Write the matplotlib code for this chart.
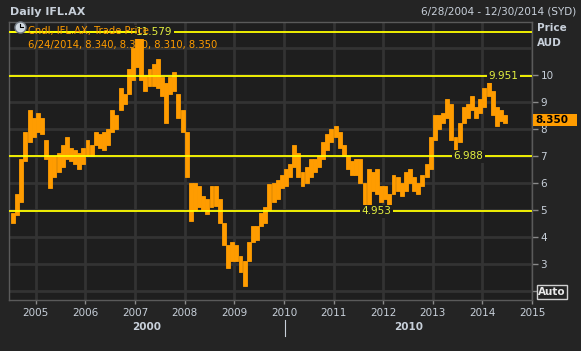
import numpy as np
import matplotlib.pyplot as plt
from matplotlib.patches import Rectangle

# monthly price ranges (Jul 2004 .. Jun 2014)
start_year, start_month = 2004, 7
lows = [4.5, 4.8, 5.3, 6.8, 7.5, 7.7,
        7.9, 7.8, 6.9, 5.8, 6.2, 6.4, 6.6, 6.9, 6.8, 6.7, 6.5, 6.7,
        7.0, 7.0, 7.4, 7.3, 7.2, 7.4, 7.9, 8.0, 8.7, 8.9, 9.3, 9.8,
        10.3, 9.8, 9.4, 9.6, 9.6, 9.5, 9.2, 8.2, 9.3, 9.4, 8.4, 7.9,
        6.2, 4.6, 5.0, 5.1, 5.0, 4.85, 5.1, 5.15, 4.5, 3.7, 2.85, 3.1,
        3.1, 2.7, 2.2, 3.1, 3.8, 3.9, 4.4, 4.5, 5.0, 5.3, 5.4, 5.8,
        5.9, 6.2, 6.6, 6.2, 5.9, 6.0, 6.2, 6.4, 6.6, 6.9, 7.2, 7.5,
        7.7, 7.3, 7.0, 6.5, 6.3, 6.3, 6.0, 4.95, 5.2, 5.7, 5.6, 5.3,
        5.4, 5.2, 5.6, 5.7, 5.5, 5.7, 6.0, 5.7, 5.6, 5.9, 6.2, 6.5,
        7.6, 8.0, 8.2, 8.4, 7.6, 6.99, 7.5, 8.2, 8.4, 8.7, 8.4, 8.6,
        8.8, 9.2, 8.5, 8.1, 8.3, 8.2]
highs = [4.9, 5.6, 6.9, 7.9, 8.7, 8.4,
         8.6, 8.4, 7.6, 7.0, 7.0, 7.1, 7.4, 7.7, 7.3, 7.2, 7.1, 7.3,
         7.6, 7.4, 7.9, 7.8, 7.9, 8.0, 8.7, 8.5, 9.5, 9.3, 10.2, 11.0,
         11.579, 11.5, 10.0, 10.2, 10.4, 10.6, 9.9, 9.7, 9.9, 10.1, 9.3, 8.7,
         7.9, 6.0, 6.0, 5.9, 5.5, 5.4, 5.9, 5.9, 5.4, 4.5, 3.7, 3.8,
         3.7, 3.3, 3.1, 3.8, 4.4, 4.4, 4.9, 5.1, 5.95, 6.0, 6.1, 6.3,
         6.5, 6.7, 7.4, 7.1, 6.4, 6.6, 6.9, 6.9, 7.0, 7.5, 7.8, 8.0,
         8.1, 7.9, 7.4, 7.0, 6.8, 6.9, 6.9, 6.0, 6.5, 6.4, 6.5, 5.9,
         5.9, 5.6, 6.3, 6.2, 6.0, 6.4, 6.5, 6.2, 6.0, 6.3, 6.7, 7.7,
         8.5, 8.5, 8.6, 9.1, 8.9, 7.7, 8.2, 8.8, 8.9, 9.2, 8.8, 9.1,
         9.5, 9.951, 9.4, 8.8, 8.7, 8.5]

levels = [11.579, 9.951, 6.988, 4.953]
level_label_x = [2007.38, 2014.42, 2013.72, 2011.86]
years = list(range(2005, 2016))
price_ticks = list(range(2, 11))
last_price = 8.350

months = np.arange(len(lows))
t = start_year + (start_month - 1 + months + 0.5) / 12.0
lows = np.array(lows)
highs = np.array(highs)

fig_bg = '#242424'
ax_bg = '#1e1e1e'
grid_c = '#333333'
txt_c = '#c8d0da'
orange = '#ff9c00'
yellow = '#ffff00'

fig = plt.figure(figsize=(5.81, 3.51), dpi=100, facecolor=fig_bg)
ax = fig.add_axes([9 / 581, 1 - 300 / 351, 523 / 581, 278 / 351], facecolor=ax_bg)

ax.set_xlim(2004.46, 2015.0)
ax.set_ylim(1.67, 11.95)

for y in range(2, 12):
    ax.axhline(y, color=grid_c, lw=2, zorder=0)
for x in years:
    ax.axvline(x, color=grid_c, lw=2, zorder=0)

ax.bar(t, highs - lows, bottom=lows, width=1 / 12 * 0.95, color=orange,
       edgecolor=orange, lw=0.6, zorder=3)

for lv, lx in zip(levels, level_label_x):
    ax.axhline(lv, color=yellow, lw=1.3, zorder=4)
    ax.text(lx, lv, f'{lv:.3f}', color='#e4f040', fontsize=7.5, ha='center',
            va='center', zorder=5,
            bbox=dict(facecolor=ax_bg, edgecolor='none', pad=1.2))

for s in ax.spines.values():
    s.set_color('#5a5a5a')
    s.set_linewidth(1)

ax.yaxis.tick_right()
ax.set_yticks(price_ticks)
ax.set_yticklabels([str(v) for v in price_ticks])
ax.set_xticks(years)
ax.set_xticklabels([str(v) for v in years])
ax.tick_params(axis='y', length=4, width=1, color='#8a8a8a', labelcolor=txt_c,
               labelsize=7.5, pad=2)
ax.tick_params(axis='x', length=3, width=1, color='#8a8a8a', labelcolor=txt_c,
               labelsize=7.5, pad=3)

# legend text in the plot (the top level line runs through it)
fig.text(28 / 581, 1 - 31 / 351, 'Cndl, IFL.AX, Trade Price', color=orange,
         fontsize=7.2, va='center', ha='left', zorder=6)
fig.text(28 / 581, 1 - 45 / 351, '6/24/2014, 8.340, 8.380, 8.310, 8.350',
         color=orange, fontsize=7.2, va='center', ha='left', zorder=6)
ax.axhline(levels[0], xmin=0, xmax=(136 - 9) / 523, color=yellow, lw=1.3,
           zorder=7)
fig.add_artist(plt.Line2D([20 / 581], [1 - 27 / 351], marker='o', markersize=8,
                          markerfacecolor='#d0d8e0', markeredgecolor='#707880',
                          transform=fig.transFigure, zorder=8))
fig.add_artist(plt.Line2D([20 / 581, 20 / 581, 23 / 581],
                          [1 - 23.5 / 351, 1 - 27 / 351, 1 - 27 / 351],
                          transform=fig.transFigure, color='black', lw=0.8,
                          zorder=9))

# last price tag
fig.patches.append(Rectangle((533 / 581, 1 - 126 / 351), 44 / 581, 12 / 351,
                             transform=fig.transFigure, facecolor=orange,
                             edgecolor='none'))
fig.text(535 / 581, 1 - 120 / 351, f'{last_price:.3f}', color='black',
         fontsize=7.5, fontweight='bold', va='center', ha='left')

# auto box
fig.text(552 / 581, 1 - 292 / 351, 'Auto', color='#e8e8e8', fontsize=7.5,
         fontweight='bold', va='center', ha='center',
         bbox=dict(facecolor=fig_bg, edgecolor='#d0d0d0', pad=1.2, lw=1))

# headers
fig.text(10 / 581, 1 - 12 / 351, 'Daily IFL.AX', color=txt_c, fontsize=8,
         fontweight='bold', va='center', ha='left')
fig.text(576 / 581, 1 - 12 / 351, '6/28/2004 - 12/30/2014 (SYD)', color=txt_c,
         fontsize=7.5, va='center', ha='right')
fig.text(537 / 581, 1 - 28 / 351, 'Price', color=txt_c, fontsize=7.5,
         fontweight='bold', va='center', ha='left')
fig.text(537 / 581, 1 - 43 / 351, 'AUD', color=txt_c, fontsize=7.5,
         fontweight='bold', va='center', ha='left')

# decade row
fig.text(147 / 581, 1 - 327 / 351, '2000', color=txt_c, fontsize=7.5,
         fontweight='bold', va='center', ha='center')
fig.text(409 / 581, 1 - 327 / 351, '2010', color=txt_c, fontsize=7.5,
         fontweight='bold', va='center', ha='center')
fig.add_artist(plt.Line2D([285 / 581, 285 / 581], [1 - 320 / 351, 1 - 336 / 351],
                          transform=fig.transFigure, color=txt_c, lw=0.8))

fig.savefig('out.png', dpi=100, facecolor=fig_bg)
